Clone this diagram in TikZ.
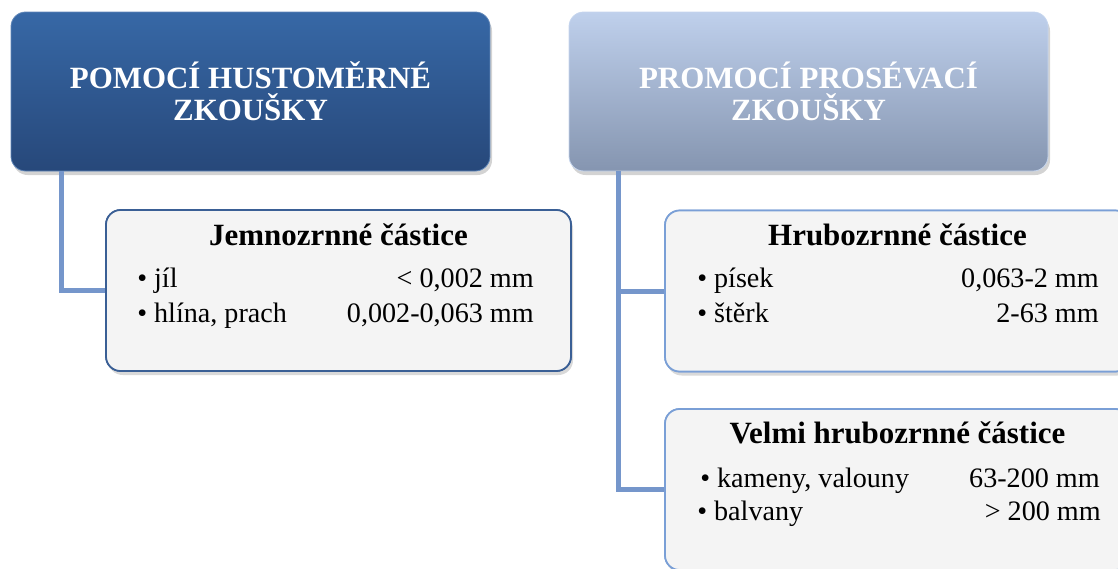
\documentclass[tikz,border=0pt]{standalone}
\usepackage{fontspec}
\setmainfont{Liberation Serif}
\usetikzlibrary{shadows}
\definecolor{darkA}{HTML}{3768A6}
\definecolor{darkB}{HTML}{27487A}
\definecolor{lightA}{HTML}{BFD0EC}
\definecolor{lightB}{HTML}{8595B0}
\definecolor{conn}{HTML}{7596CB}
\definecolor{bordA}{HTML}{3A5F95}
\definecolor{bordB}{HTML}{7A9FD6}
\definecolor{boxfill}{HTML}{F4F4F4}
\tikzset{
  topbox/.style={rounded corners=11pt, minimum width=359.25pt, minimum height=119.25pt,
    align=center, text=white, font=\fontsize{23.2}{24}\selectfont\bfseries, inner sep=0pt,
    drop shadow={shadow xshift=1.5pt, shadow yshift=-3pt, opacity=0.35}},
  childbox/.style={rounded corners=11pt, minimum width=348.75pt, minimum height=120.75pt,
    fill=boxfill, line width=1.3pt, inner sep=0pt},
  childshadow/.style={drop shadow={shadow xshift=1.5pt, shadow yshift=-3pt, opacity=0.3}},
  head/.style={anchor=base, font=\fontsize{23.2}{26}\selectfont\bfseries, inner sep=0pt},
  item/.style={anchor=base west, font=\fontsize{21.1}{24}\selectfont, inner sep=0pt},
  val/.style={anchor=base east, font=\fontsize{21.1}{24}\selectfont, inner sep=0pt},
  connector/.style={conn, line width=3.75pt},
}
\begin{document}
\begin{tikzpicture}[x=0.75pt,y=-0.75pt]
\useasboundingbox (0,0) rectangle (1118,568);
\clip (0,0) rectangle (1118,568);
% top boxes
\node[topbox, top color=darkA, bottom color=darkB, draw=darkA!80!white, line width=0.6pt] (box1) at (250.5,91.5) {POMOCÍ HUSTOMĚRNÉ\\ZKOUŠKY};
\node[topbox, top color=lightA, bottom color=lightB, draw=lightA!90!white, line width=0.6pt] (box2) at (808.5,91.5) {PROMOCÍ PROSÉVACÍ\\ZKOUŠKY};
% connector start points
\coordinate (c1) at (61,171);
\coordinate (c2) at (618,171);
% child boxes (shadows first)
\node[childbox, childshadow, draw=bordA] (child1) at (338.5,290.5) {};
\node[childbox, childshadow, draw=bordB] (child2) at (897.5,291) {};
\node[childbox, childshadow, draw=bordB] (child3) at (897.5,489.5) {};
% connectors
\draw[connector] (c1) |- (child1.west);
\draw[connector] (c2) |- (child2.west);
\draw[connector] (c2) |- (child3.west);
% boxes again over the connector ends
\node[childbox, draw=bordA] (child1b) at (child1.center) {};
\node[childbox, draw=bordB] (child2b) at (child2.center) {};
\node[childbox, draw=bordB] (child3b) at (child3.center) {};
% child 1 text
\node[head] (h1) at (338.5,245) {Jemnozrnné částice};
\node[item] (i11) at (137,287) {• jíl};
\node[val] (v11) at (534,287) {< 0,002 mm};
\node[item] (i12) at (137,322) {• hlína, prach};
\node[val] (v12) at (534,322) {0,002-0,063 mm};
% child 2 text
\node[head] (h2) at (897.5,245) {Hrubozrnné částice};
\node[item] (i21) at (697,287) {• písek};
\node[val] (v21) at (1099,287) {0,063-2 mm};
\node[item] (i22) at (697,322) {• štěrk};
\node[val] (v22) at (1099,322) {2-63 mm};
% child 3 text
\node[head] (h3) at (897.5,443) {Velmi hrubozrnné částice};
\node[item] (i31) at (700,487) {• kameny, valouny};
\node[val] (v31) at (1100,487) {63-200 mm};
\node[item] (i32) at (697,520) {• balvany};
\node[val] (v32) at (1101,520) {> 200 mm};
\end{tikzpicture}
\end{document}
